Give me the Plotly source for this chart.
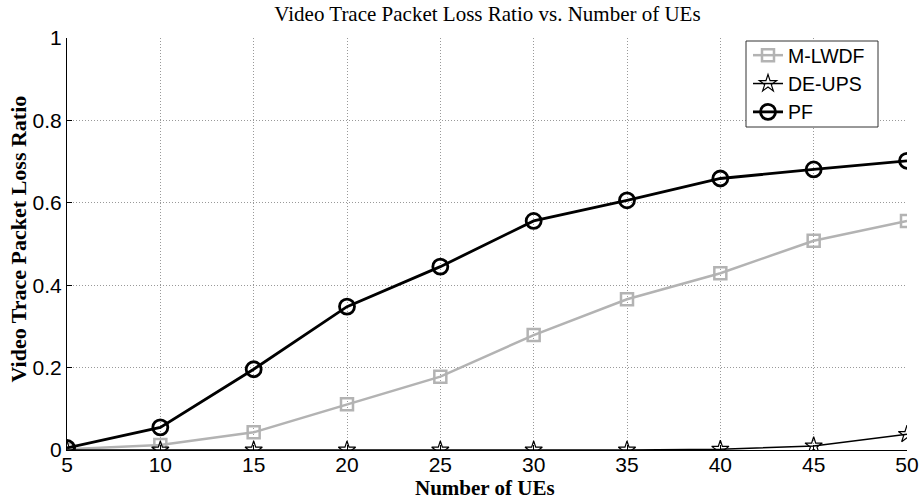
import plotly.graph_objects as go

ues = [5, 10, 15, 20, 25, 30, 35, 40, 45, 50]
mlwdf = [0.002, 0.012, 0.043, 0.111, 0.178, 0.279, 0.366, 0.429, 0.508, 0.556]
deups = [0.0, 0.0, 0.0, 0.0, 0.0, 0.0, 0.0, 0.002, 0.010, 0.038]
pf = [0.005, 0.055, 0.196, 0.348, 0.445, 0.556, 0.606, 0.659, 0.681, 0.702]
x_ticks = [5, 10, 15, 20, 25, 30, 35, 40, 45, 50]
y_ticks = [0, 0.2, 0.4, 0.6, 0.8, 1]
y_tick_text = ["0", "0.2", "0.4", "0.6", "0.8", "1"]

# plot-area pixel geometry
L, R, T, B = 67, 907, 38, 450
W, H = R - L, B - T


def px(xp):
    return (xp - L) / W


def py(yp):
    return (B - yp) / H


fig = go.Figure()
fig.add_trace(go.Scatter(
    x=ues, y=mlwdf, name="M-LWDF", mode="lines+markers",
    line=dict(color="#b3b3b3", width=2.5),
    marker=dict(symbol="square-open", size=12, color="#b3b3b3", line=dict(width=2.5, color="#b3b3b3")),
))
fig.add_trace(go.Scatter(
    x=ues, y=deups, name="DE-UPS", mode="lines+markers",
    line=dict(color="black", width=1.5),
    marker=dict(symbol="star-open", size=13, color="black", line=dict(width=1.2, color="black")),
))
fig.add_trace(go.Scatter(
    x=ues, y=pf, name="PF", mode="lines+markers",
    line=dict(color="black", width=2.8),
    marker=dict(symbol="circle-open", size=15, color="black", line=dict(width=2.8, color="black")),
))

fig.update_layout(
    width=920, height=504,
    margin=dict(l=L, r=920 - R, t=T, b=504 - B, autoexpand=False),
    paper_bgcolor="white", plot_bgcolor="white",
    title=dict(text="Video Trace Packet Loss Ratio vs. Number of UEs",
               x=487.5 / 920, xanchor="center", y=1 - 14 / 504, yanchor="middle",
               xref="container", yref="container",
               font=dict(family="Liberation Serif", size=21, color="black")),
    legend=dict(x=px(748), y=py(36), xanchor="left", yanchor="top",
                bgcolor="rgba(0,0,0,0)", borderwidth=0,
                font=dict(family="Liberation Sans", size=19.5, color="black"),
                tracegroupgap=0, itemwidth=30),
    showlegend=True,
    shapes=[
        dict(type="rect", xref="paper", yref="paper",
             x0=px(746), x1=px(878), y0=py(127), y1=py(41),
             fillcolor="white", line=dict(color="#333", width=1), layer="above"),
    ],
    annotations=[
        dict(text="<b>Video Trace Packet Loss Ratio</b>", textangle=-90,
             xref="paper", yref="paper", x=px(17.5), y=py(239),
             xanchor="center", yanchor="middle", showarrow=False,
             font=dict(family="Liberation Serif", size=22, color="black")),
        dict(text="<b>Number of UEs</b>",
             xref="paper", yref="paper", x=px(485), y=py(488),
             xanchor="center", yanchor="middle", showarrow=False,
             font=dict(family="Liberation Serif", size=21, color="black")),
    ],
)
fig.update_xaxes(
    range=[5, 50], tickvals=x_ticks, ticktext=[str(v) for v in x_ticks],
    automargin=False,
    showline=True, linecolor="black", linewidth=1, mirror=False,
    ticks="inside", ticklen=5, tickcolor="black",
    showgrid=True, gridcolor="#999", griddash="1px,2px", gridwidth=1,
    zeroline=False, ticklabelstandoff=-4,
    tickfont=dict(family="Liberation Sans", size=21, color="black"),
)
fig.update_yaxes(
    range=[0, 1], tickvals=y_ticks, ticktext=y_tick_text,
    automargin=False,
    showline=True, linecolor="black", linewidth=1, mirror=False,
    ticks="inside", ticklen=5, tickcolor="black",
    showgrid=True, gridcolor="#999", griddash="1px,2px", gridwidth=1,
    zeroline=False,
    tickfont=dict(family="Liberation Sans", size=21, color="black"),
)

fig.write_html("out.html", config={"displayModeBar": False},
               post_script="document.body.style.margin='0';")
